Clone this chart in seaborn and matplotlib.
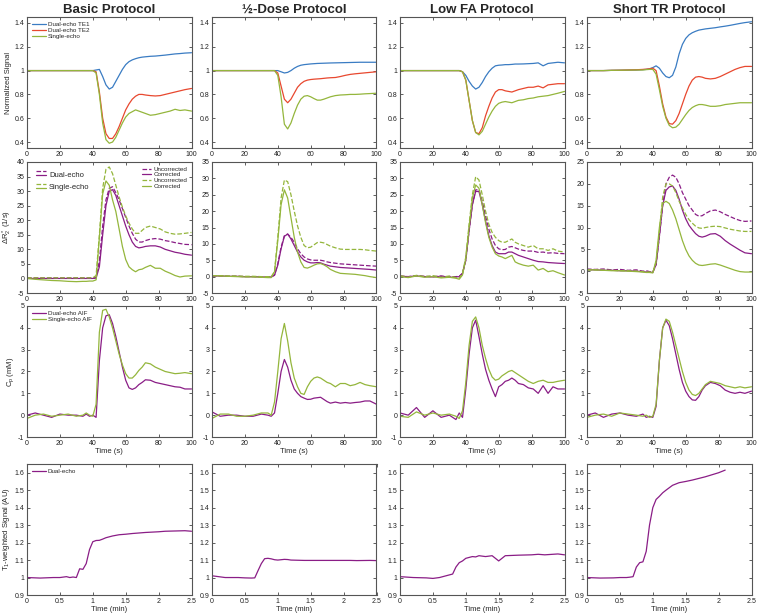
import numpy as np
import pandas as pd
import seaborn as sns
import matplotlib.pyplot as plt
from matplotlib.lines import Line2D
from matplotlib.legend_handler import HandlerBase
from matplotlib.ticker import FuncFormatter

# ---- time axes ----
t_sec = [0, 5, 10, 15, 20, 25, 30, 34, 36, 38, 40, 42, 44, 46, 48, 50, 52, 54, 56, 58,
         60, 62, 64, 66, 68, 70, 72, 75, 78, 81, 84, 87, 90, 93, 96, 100]
t_min = [0, 0.2, 0.4, 0.5, 0.6, 0.65, 0.7, 0.75, 0.8, 0.85, 0.9, 0.95, 1.0, 1.05, 1.1,
         1.15, 1.2, 1.3, 1.4, 1.5, 1.6, 1.8, 2.0, 2.1, 2.2, 2.4, 2.5]

protocols = ['Basic Protocol', '½-Dose Protocol', 'Low FA Protocol', 'Short TR Protocol']

# ---- row 1: normalized signal ----
te1_basic = [1.0]*11 + [1.005, 1.01, 0.95, 0.88, 0.845, 0.86, 0.91, 0.96, 1.01, 1.05, 1.075, 1.09, 1.1,
                        1.108, 1.113, 1.116, 1.12, 1.122, 1.126, 1.13, 1.135, 1.14, 1.143, 1.147, 1.15]
te2_basic = [1.0]*11 + [0.99, 0.82, 0.6, 0.47, 0.43, 0.43, 0.47, 0.53, 0.60, 0.67, 0.72, 0.76, 0.785,
                        0.80, 0.80, 0.795, 0.79, 0.787, 0.79, 0.80, 0.81, 0.82, 0.83, 0.84, 0.85]
se_basic = [1.0]*11 + [0.98, 0.80, 0.56, 0.42, 0.39, 0.40, 0.44, 0.50, 0.56, 0.61, 0.64, 0.655, 0.67,
                       0.66, 0.65, 0.64, 0.625, 0.63, 0.64, 0.65, 0.66, 0.675, 0.665, 0.67, 0.66]

te1_half = [1.0]*11 + [0.99, 0.98, 0.985, 1.0, 1.02, 1.035, 1.045, 1.05, 1.053, 1.056, 1.058, 1.06, 1.061,
                       1.062, 1.063, 1.064, 1.065, 1.066, 1.067, 1.068, 1.069, 1.07, 1.07, 1.07, 1.07]
te2_half = [1.0]*10 + [0.98, 0.87, 0.76, 0.73, 0.76, 0.81, 0.86, 0.89, 0.91, 0.92, 0.925, 0.928, 0.93,
                       0.932, 0.935, 0.938, 0.94, 0.942, 0.95, 0.96, 0.968, 0.973, 0.977, 0.981, 0.985, 0.99]
se_half = [1.0]*10 + [0.96, 0.78, 0.55, 0.51, 0.56, 0.64, 0.71, 0.76, 0.785, 0.79, 0.78, 0.765, 0.752,
                      0.752, 0.76, 0.77, 0.78, 0.79, 0.795, 0.797, 0.80, 0.80, 0.802, 0.805, 0.807, 0.81]

te1_lowfa = [1.0]*9 + [0.99, 0.96, 0.91, 0.87, 0.845, 0.86, 0.90, 0.95, 0.99, 1.02, 1.04, 1.045, 1.047,
                       1.05, 1.05, 1.052, 1.055, 1.055, 1.056, 1.058, 1.06, 1.065, 1.04, 1.06, 1.065, 1.07, 1.065]
te2_lowfa = [1.0]*9 + [0.99, 0.92, 0.75, 0.58, 0.48, 0.47, 0.52, 0.62, 0.70, 0.77, 0.82, 0.84, 0.84,
                       0.83, 0.825, 0.82, 0.83, 0.84, 0.85, 0.86, 0.86, 0.87, 0.855, 0.88, 0.885, 0.89, 0.89]
se_lowfa = [1.0]*9 + [0.99, 0.92, 0.75, 0.58, 0.48, 0.46, 0.49, 0.55, 0.61, 0.66, 0.70, 0.725, 0.735,
                      0.74, 0.735, 0.73, 0.74, 0.75, 0.755, 0.765, 0.77, 0.78, 0.785, 0.79, 0.80, 0.81, 0.825]

te1_tr = [1.0, 1.0, 1.0, 1.002, 1.003, 1.004, 1.005, 1.008, 1.01, 1.015, 1.025, 1.04, 1.02, 0.98, 0.95,
          0.94, 0.96, 1.03, 1.14, 1.22, 1.27, 1.30, 1.318, 1.33, 1.34, 1.345, 1.35, 1.355, 1.36, 1.367,
          1.373, 1.38, 1.388, 1.396, 1.403, 1.41]
te2_tr = [1.0, 1.0, 1.0, 1.002, 1.003, 1.005, 1.007, 1.01, 1.012, 1.015, 1.02, 1.0, 0.87, 0.72, 0.61,
          0.555, 0.55, 0.58, 0.64, 0.72, 0.80, 0.87, 0.92, 0.945, 0.95, 0.945, 0.935, 0.93, 0.935, 0.95,
          0.97, 0.99, 1.01, 1.025, 1.035, 1.035]
se_tr = [1.0, 1.0, 1.0, 1.002, 1.003, 1.004, 1.005, 1.005, 1.008, 1.01, 1.01, 0.97, 0.84, 0.70, 0.60,
         0.54, 0.52, 0.525, 0.55, 0.59, 0.63, 0.665, 0.69, 0.705, 0.715, 0.715, 0.71, 0.70, 0.70, 0.705,
         0.715, 0.72, 0.725, 0.73, 0.73, 0.73]

# ---- row 2: delta R2* ----
dr2_dual_unc_basic = [0.2]*11 + [0.3, 6, 18, 27, 31, 31.5, 29.5, 27, 24, 21, 18, 15.5, 13.5, 12.5, 12.5,
                                 13, 13.5, 13.7, 13.5, 13, 12.7, 12.3, 12, 11.7, 11.6]
dr2_dual_cor_basic = [0.0]*11 + [0.1, 4, 15, 25, 30, 30.5, 28.5, 25, 21.5, 18, 15, 12.5, 11, 10.5, 10.7,
                                 11, 11.2, 11.2, 10.8, 10, 9.5, 9, 8.7, 8.3, 8]
dr2_se_unc_basic = [0.2]*11 + [1, 15, 31, 37.5, 38.3, 36, 32, 28, 24.5, 21.5, 19, 17, 15.5, 15.5, 16.5,
                               17.5, 18, 17.5, 17, 16, 15.5, 15.2, 15.3, 15.5, 15.8]
dr2_se_cor_basic = [0, -0.3, -0.5, -0.7, -0.8, -1.0, -1.1, -1.0, -1.0, -0.9, -0.9, -0.5, 14, 29, 33.5,
                    32, 27, 23, 17, 11, 6.5, 4, 3, 2.3, 3, 3.2, 3.8, 4.5, 3.5, 3.5, 2.5, 1.8, 1, 0.5, 0.8, 0.9]

dr2_dual_unc_half = [0.2, 0.2, 0.1, 0.1, 0.0, 0.0, -0.1, -0.1, -0.1, 0.5, 4, 9, 12.5, 13, 12, 10.5, 8.5,
                     7, 6, 5.4, 5.1, 5.0, 5.0, 5.0, 4.8, 4.5, 4.3, 4.1, 3.9, 3.8, 3.7, 3.6, 3.5, 3.4, 3.3, 3.2]
dr2_dual_cor_half = [0.2, 0.2, 0.1, 0.1, 0.0, 0.0, -0.1, -0.1, -0.1, 0.4, 3.5, 8.5, 12.3, 13, 11.5, 9.5,
                     7.5, 6, 5, 4.5, 4.2, 4.2, 4.3, 4.2, 3.8, 3.5, 3.2, 3.0, 2.8, 2.7, 2.6, 2.5, 2.4, 2.3, 2.2, 2.0]
dr2_se_unc_half = [0.3, 0.3, 0.2, 0.2, 0.1, 0.1, 0.0, 0.0, 0.0, 1.5, 12, 24, 29.5, 29, 25, 20, 15.5, 12,
                   9.5, 8.8, 9, 9.7, 10.4, 10.5, 10.3, 9.8, 9.3, 8.8, 8.4, 8.3, 8.3, 8.3, 8.3, 8.2, 8.0, 7.8]
dr2_se_cor_half = [0.3, 0.2, 0.1, 0.0, -0.1, -0.1, -0.2, -0.3, -0.3, 1.5, 11, 22, 26.5, 24, 18, 12, 7.5,
                   4.5, 2.8, 2.6, 3, 3.5, 3.9, 4, 3.6, 3, 2.2, 1.5, 1.0, 0.9, 0.8, 0.7, 0.5, 0.3, 0.0, -0.3]

dr2_dual_unc_lowfa = [0.2, 0.0, 0.3, 0.1, 0.0, 0.2, -0.1, 0.0, 0.1, 1.0, 5, 14, 22, 26.5, 26.5, 23, 18.5,
                      14.5, 11.5, 9.5, 8.5, 8.2, 8.3, 9, 9.2, 8.8, 8.4, 8, 7.8, 7.8, 7.4, 7.5, 7.2, 7.3, 7.1, 7.0]
dr2_dual_cor_lowfa = [0.1, 0.0, 0.2, 0.0, -0.1, 0.1, -0.2, -0.1, 0.0, 1.0, 5, 14, 22, 26, 26, 22, 17,
                      12.5, 9.5, 7.5, 7.0, 7.0, 7.0, 7.5, 7.5, 7, 6.5, 6, 5.5, 5, 4.6, 4.5, 4.3, 4.2, 4.1, 4.0]
dr2_se_unc_lowfa = [0.3, -0.2, 0.4, 0.0, 0.3, -0.2, 0.2, -0.3, -0.5, 1.0, 6, 16, 25, 30.5, 29.5, 25, 20,
                    16, 13.5, 12, 11, 10.5, 10.5, 11, 11.5, 10.5, 10, 9.5, 9, 9.5, 8.5, 8.5, 8, 8.5, 7.8, 7.5]
dr2_se_cor_lowfa = [0.0, -0.3, 0.2, -0.2, 0.0, -0.4, -0.2, -0.5, -0.8, 0.5, 5.5, 15, 24, 28, 27, 22, 16.5,
                    12, 9, 7, 6.3, 6, 5.5, 6, 6.5, 4.5, 4, 3.5, 3.2, 3.5, 2, 2.5, 1.5, 1.8, 1.2, 0.5]

dr2_dual_unc_tr = [0.5, 0.4, 0.5, 0.3, 0.4, 0.2, 0.3, 0.0, 0.1, -0.1, -0.2, 1.5, 8, 15, 20, 21.5, 22,
                   21.5, 20, 18, 16.5, 15, 14, 13, 12.6, 12.7, 13.2, 13.8, 14, 13.6, 13, 12.5, 12, 11.6, 11.4, 11.5]
dr2_dual_cor_tr = [0.3, 0.3, 0.2, 0.2, 0.1, 0.1, 0.0, -0.1, -0.2, -0.2, -0.3, 1.5, 8, 15, 18.5, 19.3, 19.5,
                   18.5, 16.5, 14, 12, 10.5, 9.5, 8.6, 8, 7.8, 8, 8.5, 8.6, 8, 7, 6.2, 5.5, 4.8, 4.2, 4.0]
dr2_se_unc_tr = [0.3, 0.3, 0.2, 0.2, 0.1, 0.1, 0.0, -0.1, -0.2, -0.2, -0.3, 2, 9, 17, 20, 20, 19.5, 18,
                 16, 14.5, 13, 11.8, 11, 10.3, 9.9, 9.8, 10, 10.2, 10.3, 10.2, 9.9, 9.6, 9.4, 9.2, 9.1, 9.1]
dr2_se_cor_tr = [0.3, 0.3, 0.2, 0.1, 0.1, 0.0, -0.1, -0.2, -0.3, -0.3, -0.4, 2.5, 10, 15.5, 16, 15.5, 14,
                 12, 9.5, 7, 5, 3.5, 2.5, 1.8, 1.4, 1.3, 1.4, 1.6, 1.7, 1.4, 1.0, 0.6, 0.2, -0.1, -0.2, -0.2]

# ---- row 3: plasma concentration (AIF) ----
cp_dual_basic = [0.0, 0.1, 0.0, -0.1, 0.05, 0.0, 0.0, -0.05, 0.05, -0.05, 0.0, -0.1, 2.5, 4.0, 4.55, 4.6,
                 4.2, 3.6, 2.9, 2.2, 1.6, 1.25, 1.18, 1.25, 1.4, 1.5, 1.62, 1.6, 1.5, 1.45, 1.4, 1.35,
                 1.3, 1.28, 1.2, 1.2]
cp_se_basic = [-0.15, 0.0, 0.05, -0.05, 0.0, 0.05, -0.05, 0.0, 0.1, 0.0, -0.05, 0.5, 3.8, 4.8, 4.85, 4.5,
               4.0, 3.4, 2.8, 2.3, 1.9, 1.7, 1.7, 1.85, 2.05, 2.2, 2.4, 2.35, 2.2, 2.1, 2.0, 1.95, 1.9,
               1.92, 1.95, 1.9]
cp_dual_half = [0.15, -0.05, 0.0, 0.0, -0.05, -0.05, 0.05, 0.0, -0.05, 0.1, 1.0, 2.0, 2.55, 2.2, 1.6,
                1.2, 1.0, 0.85, 0.78, 0.72, 0.73, 0.78, 0.8, 0.82, 0.72, 0.62, 0.55, 0.6, 0.55, 0.58,
                0.55, 0.58, 0.6, 0.65, 0.65, 0.5]
cp_se_half = [-0.15, 0.05, 0.05, -0.05, -0.05, 0.0, 0.1, 0.1, 0.0, 0.6, 2.0, 3.5, 4.2, 3.4, 2.4, 1.7,
              1.3, 1.0, 0.95, 1.3, 1.55, 1.7, 1.75, 1.7, 1.6, 1.5, 1.45, 1.3, 1.45, 1.45, 1.35, 1.4,
              1.5, 1.4, 1.35, 1.3]
cp_dual_lowfa = [0.1, 0.0, 0.35, -0.1, 0.2, -0.1, 0.0, -0.2, 0.1, -0.1, 1.2, 2.8, 4.0, 4.35, 3.6, 2.8,
                 2.1, 1.6, 1.2, 0.85, 1.3, 1.4, 1.55, 1.6, 1.7, 1.6, 1.45, 1.4, 1.25, 1.2, 1.0, 1.35,
                 1.0, 1.3, 1.2, 1.2]
cp_se_lowfa = [-0.05, -0.1, 0.15, 0.0, 0.1, 0.0, 0.05, -0.05, -0.15, 0.2, 1.5, 3.2, 4.3, 4.5, 4.0, 3.2,
               2.6, 2.1, 1.75, 1.6, 1.65, 1.8, 1.9, 2.0, 2.05, 1.95, 1.85, 1.7, 1.55, 1.45, 1.55, 1.6,
               1.5, 1.5, 1.55, 1.6]
cp_dual_tr = [0.0, 0.1, -0.1, 0.05, 0.1, 0.0, -0.05, 0.05, -0.1, -0.05, -0.1, 0.4, 2.5, 4.0, 4.35, 4.1,
              3.5, 2.8, 2.1, 1.5, 1.1, 0.85, 0.7, 0.68, 0.85, 1.15, 1.35, 1.5, 1.45, 1.35, 1.15, 1.05,
              1.0, 1.05, 1.0, 1.1]
cp_se_tr = [-0.1, 0.0, 0.05, -0.05, 0.1, 0.05, 0.0, -0.05, 0.0, -0.1, -0.05, 0.5, 2.5, 4.0, 4.4, 4.3,
            3.8, 3.2, 2.6, 2.0, 1.5, 1.15, 0.95, 0.9, 1.0, 1.2, 1.4, 1.55, 1.5, 1.45, 1.35, 1.3, 1.25,
            1.3, 1.25, 1.3]

# ---- row 4: T1-weighted signal ----
t1_basic = [1.0, 0.997, 1.0, 1.0, 1.005, 1.0, 1.003, 1.0, 1.05, 1.047, 1.08, 1.16, 1.205, 1.212, 1.213,
            1.22, 1.228, 1.238, 1.245, 1.248, 1.252, 1.258, 1.262, 1.265, 1.266, 1.268, 1.265]
t1_half = [1.01, 1.0, 1.0, 0.998, 0.997, 0.998, 1.04, 1.08, 1.108, 1.11, 1.107, 1.102, 1.1, 1.102, 1.104,
           1.103, 1.1, 1.099, 1.098, 1.098, 1.098, 1.098, 1.098, 1.098, 1.097, 1.098, 1.097]
t1_lowfa = [1.005, 1.0, 0.998, 0.995, 1.0, 1.005, 1.01, 1.015, 1.02, 1.06, 1.085, 1.095, 1.11, 1.115,
            1.12, 1.118, 1.125, 1.12, 1.125, 1.095, 1.125, 1.128, 1.13, 1.133, 1.13, 1.135, 1.13]
t1_tr = [1.0, 0.997, 0.998, 1.0, 1.0, 1.002, 1.005, 1.06, 1.085, 1.09, 1.15, 1.3, 1.4, 1.447, 1.465,
         1.485, 1.5, 1.528, 1.543, 1.55, 1.558, 1.577, 1.6, 1.615, np.nan, np.nan, np.nan]

# colours
BLUE = '#3a7cc3'
RED = '#e8482f'
GREEN = '#94b63c'
PURPLE = '#8a1d86'

sns.set_style('ticks')
plt.rcParams['font.family'] = ['Liberation Sans', 'DejaVu Sans']
plt.rcParams['mathtext.default'] = 'regular'
plt.rcParams['axes.unicode_minus'] = False

fig = plt.figure(figsize=(7.6, 6.15), dpi=100)

col_left = [27, 212, 400, 587]
row_top = [17, 162, 306, 464]
W, H = 164.5, 131


class StackedHandler(HandlerBase):
    # draw a dashed line above a solid one for a (dashed, solid) pair
    def create_artists(self, legend, orig_handle, xdescent, ydescent, width, height, fontsize, trans):
        out = []
        for h, frac in zip(orig_handle, (0.95, 0.25)):
            y = -ydescent + frac * height
            ln = Line2D([-xdescent, -xdescent + width], [y, y], color=h.get_color(),
                        linestyle=h.get_linestyle(), linewidth=h.get_linewidth())
            ln.set_transform(trans)
            out.append(ln)
        return out


fmt = FuncFormatter(lambda v, p: '%g' % v)


def make_ax(r, c):
    ax = fig.add_axes([col_left[c] / 760, 1 - (row_top[r] + H) / 615, W / 760, H / 615])
    ax.tick_params(direction='in', top=True, right=True, length=2.5, width=0.6,
                   labelsize=5, pad=2, color='#444', labelcolor='#222')
    for s in ax.spines.values():
        s.set_linewidth(0.8)
        s.set_color('#555')
    ax.xaxis.set_major_formatter(fmt)
    ax.yaxis.set_major_formatter(fmt)
    return ax


def draw(ax, x, y, color, ls='-', label=None):
    sns.lineplot(x=x, y=y, ax=ax, color=color, linestyle=ls, linewidth=0.9,
                 estimator=None, legend=False, label=label)


row1 = [(te1_basic, te2_basic, se_basic), (te1_half, te2_half, se_half),
        (te1_lowfa, te2_lowfa, se_lowfa), (te1_tr, te2_tr, se_tr)]
row2 = [(dr2_dual_unc_basic, dr2_dual_cor_basic, dr2_se_unc_basic, dr2_se_cor_basic),
        (dr2_dual_unc_half, dr2_dual_cor_half, dr2_se_unc_half, dr2_se_cor_half),
        (dr2_dual_unc_lowfa, dr2_dual_cor_lowfa, dr2_se_unc_lowfa, dr2_se_cor_lowfa),
        (dr2_dual_unc_tr, dr2_dual_cor_tr, dr2_se_unc_tr, dr2_se_cor_tr)]
row2_ymax = [40, 35, 35, 25]
row3 = [(cp_dual_basic, cp_se_basic), (cp_dual_half, cp_se_half),
        (cp_dual_lowfa, cp_se_lowfa), (cp_dual_tr, cp_se_tr)]
row4 = [t1_basic, t1_half, t1_lowfa, t1_tr]

for c in range(4):
    # row 1
    ax = make_ax(0, c)
    te1, te2, se = row1[c]
    draw(ax, t_sec, te1, BLUE, label='Dual-echo TE1')
    draw(ax, t_sec, te2, RED, label='Dual-echo TE2')
    draw(ax, t_sec, se, GREEN, label='Single-echo')
    ax.set_xlim(0, 100)
    ax.set_xticks(range(0, 101, 20))
    ax.set_ylim(0.35, 1.45)
    ax.set_yticks([0.4, 0.6, 0.8, 1.0, 1.2, 1.4])
    ax.set_title(protocols[c], fontsize=9.5, fontweight='bold', pad=3)
    if c == 0:
        ax.set_ylabel('Normalized Signal', fontsize=5.5, labelpad=1.5)
        ax.legend(loc='upper left', fontsize=4.5, frameon=False, handlelength=2.2,
                  labelspacing=0.05, handletextpad=0.3, borderaxespad=0.4)

    # row 2
    ax = make_ax(1, c)
    du, dc, su, sc = row2[c]
    draw(ax, t_sec, du, PURPLE, '--', 'Uncorrected')
    draw(ax, t_sec, dc, PURPLE, '-', 'Corrected')
    draw(ax, t_sec, su, GREEN, '--', 'Uncorrected')
    draw(ax, t_sec, sc, GREEN, '-', 'Corrected')
    ax.set_xlim(0, 100)
    ax.set_xticks(range(0, 101, 20))
    ax.set_ylim(-5, row2_ymax[c])
    ax.set_yticks(range(-5, row2_ymax[c] + 1, 5))
    if c == 0:
        ax.set_ylabel('ΔR$_2^*$ (1/s)', fontsize=5.5, labelpad=1.5)
        lines = ax.get_lines()
        leg_a = ax.legend([(lines[0], lines[1]), (lines[2], lines[3])], ['Dual-echo', 'Single-echo'],
                          handler_map={tuple: StackedHandler()}, loc='upper left', fontsize=5.5,
                          frameon=False, handlelength=1.3, labelspacing=0.7, handletextpad=0.4,
                          borderaxespad=0.8)
        ax.add_artist(leg_a)
        ax.legend(lines, [l.get_label() for l in lines], loc='upper right', fontsize=4.5,
                  frameon=False, handlelength=1.4, labelspacing=0.05, handletextpad=0.4,
                  borderaxespad=0.3)

    # row 3
    ax = make_ax(2, c)
    dual, se = row3[c]
    draw(ax, t_sec, dual, PURPLE, label='Dual-echo AIF')
    draw(ax, t_sec, se, GREEN, label='Single-echo AIF')
    ax.set_xlim(0, 100)
    ax.set_xticks(range(0, 101, 20))
    ax.set_ylim(-1, 5)
    ax.set_yticks(range(-1, 6))
    ax.set_xlabel('Time (s)', fontsize=5.5, labelpad=1)
    if c == 0:
        ax.set_ylabel('C$_p$ (mM)', fontsize=5.5, labelpad=1.5)
        ax.legend(loc='upper left', fontsize=4.5, frameon=False, handlelength=2.2,
                  labelspacing=0.05, handletextpad=0.3, borderaxespad=0.4)

    # row 4
    ax = make_ax(3, c)
    draw(ax, t_min, row4[c], PURPLE, label='Dual-echo')
    ax.set_xlim(0, 2.5)
    ax.set_xticks([0, 0.5, 1, 1.5, 2, 2.5])
    ax.set_ylim(0.9, 1.65)
    ax.set_yticks([0.9, 1.0, 1.1, 1.2, 1.3, 1.4, 1.5, 1.6])
    ax.set_xlabel('Time (min)', fontsize=5.5, labelpad=1)
    if c == 0:
        ax.set_ylabel('T$_1$-weighted Signal (AU)', fontsize=5.5, labelpad=1.5)
        ax.legend(loc='upper left', fontsize=4.5, frameon=False, handlelength=2.2,
                  labelspacing=0.05, handletextpad=0.3, borderaxespad=0.4)

fig.savefig('out.png', dpi=100, facecolor='white')
